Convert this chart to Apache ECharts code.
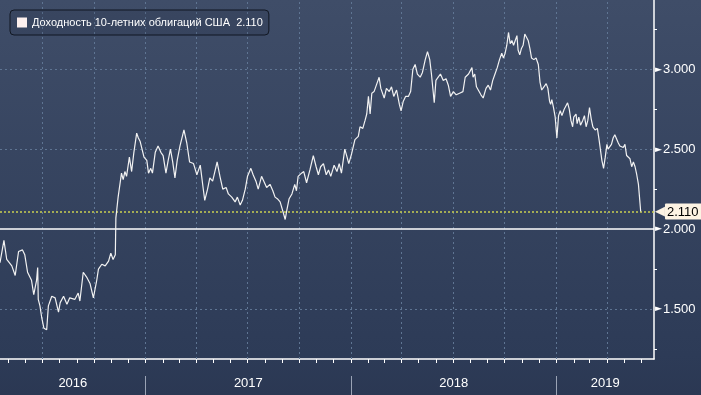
<!DOCTYPE html>
<html>
<head>
<meta charset="utf-8">
<script src="https://cdn.jsdelivr.net/npm/echarts@6/dist/echarts.min.js"></script>
<style>
html,body{margin:0;padding:0;background:#2b3853;}
#chart{width:701px;height:395px;}
</style>
</head>
<body>
<div id="chart"></div>
<script>
const seriesName = 'Доходность 10-летних облигаций США';
const dates = [
'2016-04-17','2016-04-24','2016-04-29','2016-05-08','2016-05-14','2016-05-20','2016-05-27','2016-05-31',
'2016-06-05','2016-06-12','2016-06-16','2016-06-21','2016-06-23','2016-06-24','2016-06-27','2016-06-30',
'2016-07-04','2016-07-09','2016-07-12','2016-07-18','2016-07-24','2016-07-30','2016-08-02','2016-08-08',
'2016-08-14','2016-08-19','2016-08-28','2016-09-03','2016-09-06','2016-09-12','2016-09-18','2016-09-24',
'2016-09-30','2016-10-06','2016-10-09','2016-10-15','2016-10-21','2016-10-27','2016-10-31','2016-11-04',
'2016-11-07','2016-11-08','2016-11-09','2016-11-13','2016-11-19','2016-11-22','2016-11-25','2016-11-28',
'2016-12-03','2016-12-07','2016-12-11','2016-12-16','2016-12-19','2016-12-22','2016-12-25','2016-12-29',
'2017-01-03','2017-01-06','2017-01-10','2017-01-13','2017-01-18','2017-01-23','2017-01-28','2017-02-01',
'2017-02-06','2017-02-10','2017-02-14','2017-02-18','2017-02-22','2017-02-26','2017-03-03','2017-03-10',
'2017-03-15','2017-03-20','2017-03-27','2017-04-02','2017-04-08','2017-04-13','2017-04-16','2017-04-21',
'2017-04-25','2017-04-30','2017-05-04','2017-05-08','2017-05-13','2017-05-18','2017-05-24','2017-05-28',
'2017-06-03','2017-06-09','2017-06-13','2017-06-18','2017-06-22','2017-06-27','2017-07-01','2017-07-07',
'2017-07-11','2017-07-16','2017-07-20','2017-07-26','2017-07-30','2017-08-04','2017-08-10','2017-08-15',
'2017-08-19','2017-08-23','2017-08-28','2017-09-02','2017-09-06','2017-09-09','2017-09-13','2017-09-18',
'2017-09-23','2017-09-26','2017-09-29','2017-10-05','2017-10-09','2017-10-14','2017-10-20','2017-10-26',
'2017-10-31','2017-11-04','2017-11-08','2017-11-13','2017-11-18','2017-11-22','2017-11-26','2017-12-02',
'2017-12-07','2017-12-11','2017-12-15','2017-12-21','2017-12-25','2017-12-28','2018-01-02','2018-01-08',
'2018-01-14','2018-01-17','2018-01-22','2018-01-26','2018-01-29','2018-02-01','2018-02-04','2018-02-07',
'2018-02-11','2018-02-16','2018-02-20','2018-02-23','2018-02-26','2018-03-01','2018-03-05','2018-03-10',
'2018-03-14','2018-03-18','2018-03-23','2018-03-28','2018-03-31','2018-04-04','2018-04-08','2018-04-13',
'2018-04-17','2018-04-21','2018-04-25','2018-04-29','2018-05-04','2018-05-08','2018-05-13','2018-05-17',
'2018-05-21','2018-05-24','2018-05-29','2018-06-01','2018-06-05','2018-06-09','2018-06-14','2018-06-19',
'2018-06-23','2018-06-27','2018-07-02','2018-07-07','2018-07-13','2018-07-19','2018-07-23','2018-07-29',
'2018-08-01','2018-08-04','2018-08-06','2018-08-09','2018-08-12','2018-08-15','2018-08-20','2018-08-24',
'2018-08-29','2018-09-02','2018-09-06','2018-09-10','2018-09-14','2018-09-18','2018-09-22','2018-09-26',
'2018-09-29','2018-10-02','2018-10-05','2018-10-08','2018-10-11','2018-10-14','2018-10-17','2018-10-20',
'2018-10-23','2018-10-25','2018-10-28','2018-10-31','2018-11-03','2018-11-06','2018-11-09','2018-11-12',
'2018-11-15','2018-11-18','2018-11-22','2018-11-26','2018-11-30','2018-12-03','2018-12-06','2018-12-10',
'2018-12-14','2018-12-17','2018-12-20','2018-12-22','2018-12-24','2018-12-27','2018-12-30','2019-01-02',
'2019-01-05','2019-01-08','2019-01-11','2019-01-15','2019-01-18','2019-01-21','2019-01-24','2019-01-27',
'2019-01-30','2019-02-01','2019-02-05','2019-02-07','2019-02-10','2019-02-13','2019-02-17','2019-02-20',
'2019-02-23','2019-02-26','2019-03-01','2019-03-04','2019-03-07','2019-03-11','2019-03-15','2019-03-18',
'2019-03-23','2019-03-26','2019-03-29','2019-04-01','2019-04-03','2019-04-06','2019-04-09','2019-04-12',
'2019-04-15','2019-04-18','2019-04-21','2019-04-24','2019-04-27','2019-04-30','2019-05-03','2019-05-06',
'2019-05-09','2019-05-12','2019-05-15','2019-05-18','2019-05-21','2019-05-24','2019-05-27','2019-05-30',
'2019-05-31'
];
const yields = [
1.79,1.93,1.81,1.77,1.71,1.86,1.87,1.84,
1.73,1.68,1.59,1.68,1.76,1.56,1.52,1.45,
1.38,1.37,1.52,1.58,1.57,1.48,1.54,1.58,
1.53,1.57,1.56,1.60,1.55,1.73,1.70,1.66,
1.57,1.68,1.75,1.78,1.77,1.80,1.85,1.81,
1.82,1.84,2.07,2.20,2.35,2.31,2.36,2.33,
2.45,2.36,2.48,2.60,2.57,2.55,2.56,2.45,
2.43,2.35,2.38,2.35,2.48,2.52,2.48,2.46,
2.35,2.43,2.50,2.42,2.32,2.43,2.52,2.62,
2.54,2.42,2.41,2.34,2.40,2.26,2.18,2.25,
2.32,2.30,2.36,2.42,2.33,2.25,2.26,2.22,
2.20,2.17,2.20,2.15,2.18,2.25,2.33,2.38,
2.34,2.30,2.25,2.33,2.30,2.26,2.28,2.24,
2.20,2.19,2.17,2.11,2.06,2.12,2.19,2.22,
2.28,2.24,2.33,2.35,2.36,2.29,2.37,2.46,
2.39,2.34,2.39,2.41,2.34,2.37,2.33,2.40,
2.36,2.41,2.35,2.50,2.45,2.41,2.47,2.56,
2.58,2.64,2.63,2.68,2.72,2.83,2.72,2.85,
2.86,2.91,2.95,2.88,2.89,2.82,2.88,2.86,
2.89,2.83,2.87,2.78,2.74,2.80,2.83,2.83,
2.86,3.00,3.03,2.97,2.95,2.98,3.06,3.11,
3.06,2.97,2.79,2.93,2.95,2.97,2.93,2.94,
2.90,2.83,2.86,2.84,2.85,2.86,2.95,2.97,
2.96,3.01,2.95,2.97,2.89,2.90,2.84,2.82,
2.88,2.90,2.87,2.93,2.97,3.01,3.06,3.10,
3.07,3.10,3.15,3.23,3.16,3.18,3.15,3.18,
3.21,3.12,3.09,3.13,3.15,3.22,3.23,3.18,
3.13,3.07,3.06,3.07,3.03,2.92,2.87,2.89,
2.91,2.88,2.80,2.78,2.81,2.76,2.70,2.57,
2.71,2.74,2.71,2.75,2.76,2.79,2.75,2.68,
2.64,2.70,2.72,2.66,2.70,2.65,2.68,2.71,
2.64,2.68,2.76,2.69,2.64,2.62,2.63,2.56,
2.43,2.38,2.45,2.53,2.50,2.49,2.53,2.57,
2.59,2.58,2.54,2.52,2.53,2.51,2.53,2.46,
2.47,2.44,2.39,2.42,2.39,2.34,2.28,2.27,
2.11
];
const yLabelValues = [1.5, 2.0, 2.5, 3.0];
const yMinorTicks = [1.25, 1.75, 2.25, 2.75, 3.25];
const yGridValues = [1.5, 2.5, 3.0];
const refLevel = 2.0;
const years = [2016, 2017, 2018, 2019];
const xStart = '2016-04-17';
const xEnd = '2019-06-23T16:00:00Z';
const yMin = 1.1875, yMax = 3.433;

const ts = s => Date.parse(s.length === 10 ? s + 'T00:00:00Z' : s);
const xMin = ts(xStart), xMax = ts(xEnd);
const seriesData = dates.map((d, i) => [ts(d), yields[i]]);
const lastVal = yields[yields.length - 1];

const monthTicks = [], quarterTicks = [], yearStarts = [];
for (let y = 2016; y <= 2019; y++) {
  for (let m = 0; m < 12; m++) {
    const t = Date.UTC(y, m, 1);
    if (t < xMin || t > xMax) continue;
    monthTicks.push(t);
    if (m % 3 === 0) quarterTicks.push(t);
    if (m === 0) yearStarts.push(t);
  }
}
const yearMids = years.map(y => {
  const a = Math.max(xMin, Date.UTC(y, 0, 1));
  const b = Math.min(xMax, Date.UTC(y + 1, 0, 1));
  return (a + b) / 2;
});

const gridStyle = {color: '#5f7593', type: [2, 3], width: 1};
const markData = [];
quarterTicks.forEach(t => markData.push({xAxis: t, lineStyle: gridStyle, label: {show: false}}));
yGridValues.forEach(v => markData.push({yAxis: v, lineStyle: gridStyle, label: {show: false}}));
markData.push({yAxis: refLevel, lineStyle: {color: '#ffffff', type: 'solid', width: 1.5}, label: {show: false}});
markData.push({
  yAxis: lastVal,
  lineStyle: {color: '#c9cf52', type: [2, 2], width: 1.5},
  label: {
    show: true, position: 'end', distance: 1,
    formatter: p => '{tip|◀}{box|' + Number(p.value).toFixed(3) + '}',
    rich: {
      tip: {color: '#fdf3e3', fontSize: 13, fontFamily: 'DejaVu Sans'},
      box: {color: '#000', backgroundColor: '#fdf3e3', fontSize: 13, fontFamily: 'Liberation Sans',
            padding: [2, 3, 1, 2], borderRadius: 1}
    }
  }
});

const chart = echarts.init(document.getElementById('chart'), null, {renderer: 'canvas'});
chart.setOption({
  animation: false,
  backgroundColor: new echarts.graphic.LinearGradient(0, 0, 0, 1, [
    {offset: 0, color: '#3f4d68'},
    {offset: 0.9, color: '#2d3b57'},
    {offset: 1, color: '#2b3853'}
  ]),
  grid: {left: 0, right: 47, top: 0, bottom: 36, containLabel: false},
  legend: {
    left: 10, top: 10,
    padding: [6, 6, 6, 7],
    backgroundColor: 'rgba(20,28,45,0.12)',
    borderColor: '#111722', borderWidth: 1, borderRadius: 4,
    icon: 'rect', itemWidth: 10, itemHeight: 10, itemGap: 5,
    data: [{name: seriesName, itemStyle: {color: '#fdf0ee'}}],
    formatter: n => n + '  ' + lastVal.toFixed(3),
    textStyle: {color: '#ffffff', fontSize: 11, fontFamily: 'Liberation Sans', lineHeight: 13}
  },
  xAxis: [{
    type: 'value', min: xMin, max: xMax, position: 'bottom',
    axisLine: {show: true, lineStyle: {color: '#ffffff', width: 1.5}},
    axisTick: {show: true, length: 4, lineStyle: {color: '#ffffff', width: 1}, customValues: monthTicks},
    axisLabel: {show: true, customValues: yearMids, margin: 18, color: '#ffffff', fontSize: 13,
                fontFamily: 'Liberation Sans',
                formatter: v => String(new Date(v).getUTCFullYear())},
    splitLine: {show: false}
  }, {
    type: 'value', min: xMin, max: xMax, position: 'bottom', offset: 17,
    axisLine: {show: false},
    axisTick: {show: true, length: 20, lineStyle: {color: '#9aa3b5', width: 1}, customValues: yearStarts},
    axisLabel: {show: false},
    splitLine: {show: false}
  }],
  yAxis: {
    type: 'value', position: 'right', min: yMin, max: yMax,
    axisLine: {show: true, lineStyle: {color: '#ffffff', width: 1.5}},
    axisTick: {show: true, length: 3, lineStyle: {color: '#ffffff', width: 1}, customValues: yMinorTicks},
    axisLabel: {show: true, customValues: yLabelValues, margin: 1, color: '#ffffff', fontSize: 13,
                fontFamily: 'Liberation Sans',
                formatter: v => '{t|►}' + v.toFixed(3),
                rich: {t: {color: '#ffffff', fontSize: 9, fontFamily: 'DejaVu Sans', padding: [0, 1, 0, 0]}}},
    splitLine: {show: false}
  },
  series: [{
    name: seriesName,
    type: 'line',
    data: seriesData,
    showSymbol: false,
    symbol: 'none',
    lineStyle: {color: '#f2f2f2', width: 1.2},
    itemStyle: {color: '#fdf0ee'},
    z: 3,
    markLine: {silent: true, symbol: 'none', animation: false, z: 2, data: markData}
  }]
});
</script>
</body>
</html>
